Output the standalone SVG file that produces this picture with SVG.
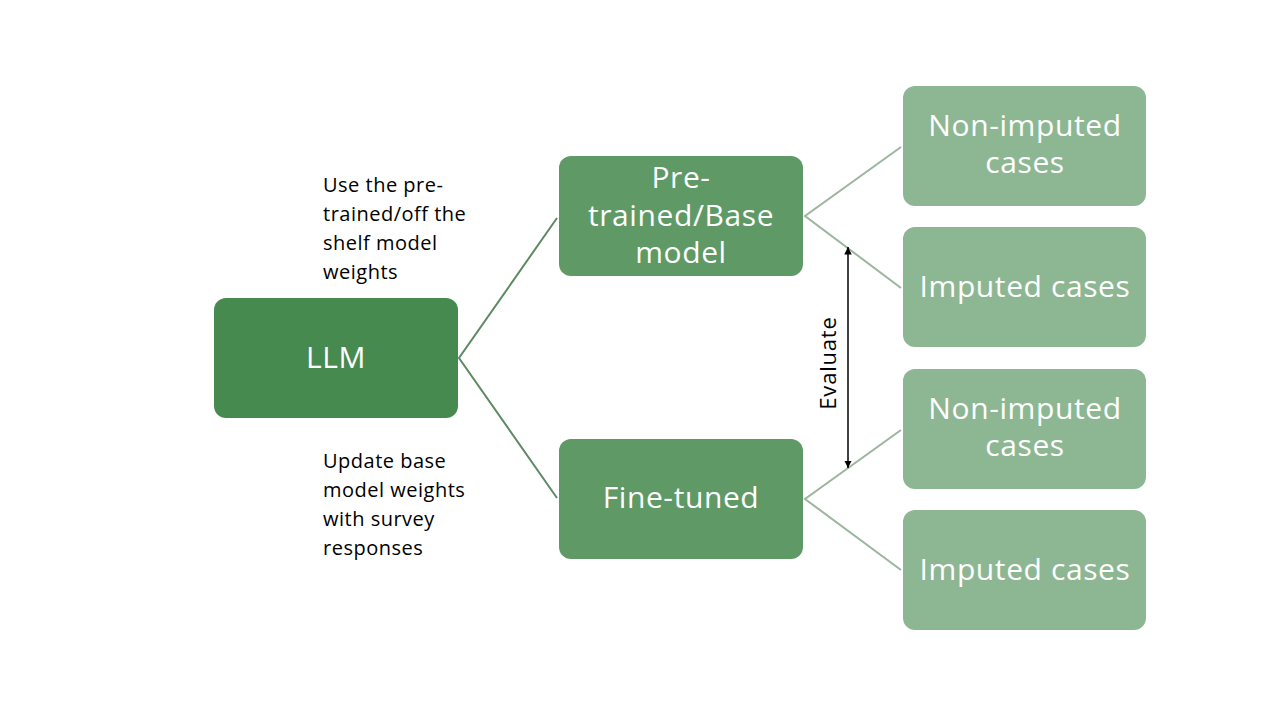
<svg xmlns="http://www.w3.org/2000/svg" width="1280" height="720" viewBox="0 0 1280 720">
<defs>
<style>
.t{font-family:"Open Sans","Noto Sans",sans-serif;fill:#fff;font-size:30px;letter-spacing:0.6px;text-anchor:middle}
.l{font-family:"Open Sans","Noto Sans",sans-serif;fill:#000;font-size:20px;letter-spacing:0.5px}
.e{font-family:"Open Sans","Noto Sans",sans-serif;fill:#000;font-size:22px;letter-spacing:0.8px;text-anchor:middle}
.c1{stroke:#5E8A63;stroke-width:2;fill:none}
.c2{stroke:#9BB59F;stroke-width:2;fill:none}
</style>
<marker id="ah" viewBox="0 0 10 10" refX="10" refY="5" markerWidth="5" markerHeight="5" orient="auto-start-reverse"><path d="M0,0L10,5L0,10z" fill="#000"/></marker>
</defs>
<rect width="1280" height="720" fill="#fff"/>
<g id="connectors">
<path class="c1" d="M557,218L459,358L557,498"/>
<path class="c2" d="M901,147L805,216L901,288"/>
<path class="c2" d="M901,430L805,499L901,570"/>
<line x1="848" y1="247" x2="848" y2="468" stroke="#000" stroke-width="1.5" marker-start="url(#ah)" marker-end="url(#ah)"/>
<text class="e" transform="translate(836,363) rotate(-90)">Evaluate</text>
</g>
<g id="label-top"><text class="l"><tspan x="323" y="192">Use the pre-</tspan><tspan x="323" y="221">trained/off the</tspan><tspan x="323" y="250">shelf model</tspan><tspan x="323" y="279">weights</tspan></text></g>
<g id="label-bottom"><text class="l"><tspan x="323" y="468">Update base</tspan><tspan x="323" y="497">model weights</tspan><tspan x="323" y="526">with survey</tspan><tspan x="323" y="555">responses</tspan></text></g>
<g id="llm"><rect x="214" y="298" width="244" height="120" rx="12" fill="#478A50"/><text class="t" x="336" y="368">LLM</text></g>
<g id="pretrained"><rect x="559" y="156" width="244" height="120" rx="12" fill="#5E9966"/><text class="t"><tspan x="681" y="188">Pre-</tspan><tspan x="681" y="226">trained/Base</tspan><tspan x="681" y="263">model</tspan></text></g>
<g id="finetuned"><rect x="559" y="439" width="244" height="120" rx="12" fill="#5E9966"/><text class="t" x="681" y="508">Fine-tuned</text></g>
<g id="nonimp1"><rect x="903" y="86" width="243" height="120" rx="12" fill="#8DB793"/><text class="t"><tspan x="1025" y="136">Non-imputed</tspan><tspan x="1025" y="173">cases</tspan></text></g>
<g id="imp1"><rect x="903" y="227" width="243" height="120" rx="12" fill="#8DB793"/><text class="t" x="1025" y="297">Imputed cases</text></g>
<g id="nonimp2"><rect x="903" y="369" width="243" height="120" rx="12" fill="#8DB793"/><text class="t"><tspan x="1025" y="419">Non-imputed</tspan><tspan x="1025" y="456">cases</tspan></text></g>
<g id="imp2"><rect x="903" y="510" width="243" height="120" rx="12" fill="#8DB793"/><text class="t" x="1025" y="580">Imputed cases</text></g>
</svg>
